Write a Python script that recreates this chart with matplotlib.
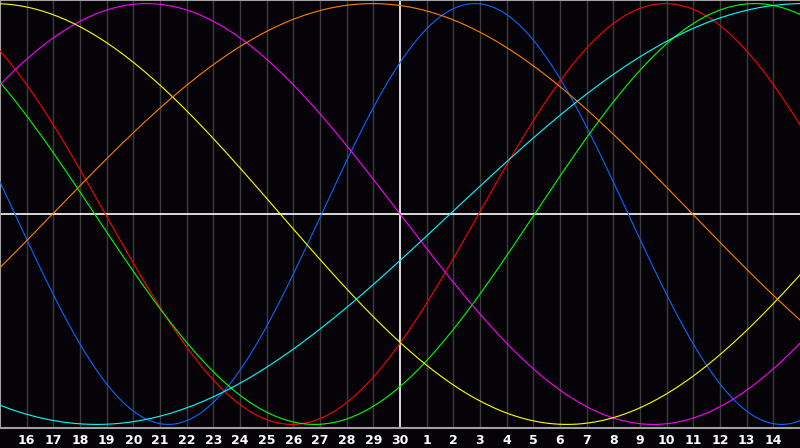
import numpy as np
import matplotlib
matplotlib.use('Agg')
import matplotlib.pyplot as plt

# day labels under the chart (today = 30, in the middle)
day_labels = ['16', '17', '18', '19', '20', '21', '22', '23', '24', '25', '26', '27', '28', '29', '30',
              '1', '2', '3', '4', '5', '6', '7', '8', '9', '10', '11', '12', '13', '14']
day_offsets = list(range(-14, 15))

# cycles: length in days, day of the peak relative to today, line colour
periods = [23, 28, 33, 38, 43, 48, 53]
peak_offsets = [2.81, 9.95, 13.3, -9.5, -15.24, -1.03, 15.13]
colors = ['#0a66ff', '#ff0000', '#00ff00', '#ff00ff', '#ffff00', '#ff8000', '#00ffff']

bg = '#050308'

fig = plt.figure(figsize=(8, 4.48), dpi=100, facecolor=bg)
ax = fig.add_axes([0, 20 / 448, 1, 428 / 448])
ax.set_facecolor(bg)

# day grid
for d in day_offsets:
    if d != 0:
        ax.axvline(d, color='#3c3c3c', lw=1.0, zorder=1)
ax.axvline(0, color='white', lw=1.2, zorder=2)
ax.axhline(0, color='white', lw=1.2, zorder=2)

t = np.linspace(-15, 15, 1201)
for p, pk, c in zip(periods, peak_offsets, colors):
    ax.plot(t, np.cos(2 * np.pi * (t - pk) / p), color=c, lw=0.8, zorder=3)

ax.set_xlim(-15, 15)
ax.set_ylim(-1.017, 1.017)
ax.set_yticks([])
ax.set_xticks(day_offsets)
ax.set_xticklabels(day_labels, color='white', fontsize=9, fontweight='bold')
ax.tick_params(axis='x', length=0, pad=4)
for s in ax.spines.values():
    s.set_color('#a0a0a0')
    s.set_linewidth(1.5)
ax.spines['right'].set_visible(False)

fig.savefig('out.png', dpi=100, facecolor=bg)
